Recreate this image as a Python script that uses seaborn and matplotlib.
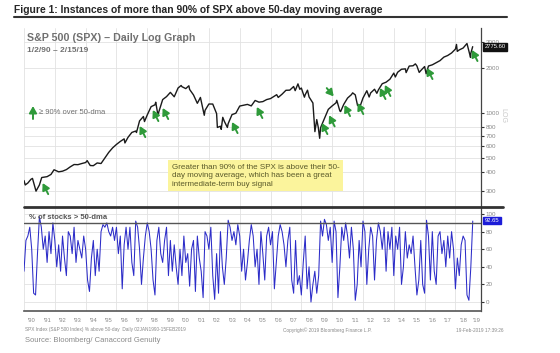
import numpy as np
import pandas as pd
import matplotlib.pyplot as plt
import matplotlib.lines as mlines
from matplotlib.ticker import NullLocator, FixedLocator
import seaborn as sns

# S&P 500 closes (decimal year, index level)
spx_dates = [1990.00, 1990.08, 1990.25, 1990.45, 1990.55, 1990.78, 1991.00, 1991.15, 1991.50, 1991.75,
             1991.95, 1992.25, 1992.50, 1992.75, 1993.00, 1993.25, 1993.50, 1993.75, 1994.00, 1994.10,
             1994.30, 1994.50, 1994.75, 1995.00, 1995.25, 1995.50, 1995.75, 1996.00, 1996.25, 1996.50,
             1996.55, 1996.75, 1997.00, 1997.25, 1997.30, 1997.50, 1997.75, 1997.82, 1998.00, 1998.25,
             1998.50, 1998.55, 1998.70, 1998.75, 1999.00, 1999.25, 1999.50, 1999.75, 2000.00, 2000.20,
             2000.25, 2000.50, 2000.70, 2000.75, 2001.00, 2001.25, 2001.45, 2001.70, 2001.75, 2002.00,
             2002.25, 2002.50, 2002.55, 2002.75, 2002.80, 2002.90, 2003.00, 2003.20, 2003.25, 2003.50,
             2003.75, 2004.00, 2004.25, 2004.50, 2004.75, 2005.00, 2005.25, 2005.50, 2005.75, 2006.00,
             2006.25, 2006.40, 2006.50, 2006.75, 2007.00, 2007.25, 2007.50, 2007.60, 2007.78, 2007.90,
             2008.00, 2008.20, 2008.25, 2008.40, 2008.50, 2008.75, 2008.88, 2009.00, 2009.10, 2009.19,
             2009.25, 2009.50, 2009.75, 2010.00, 2010.25, 2010.30, 2010.50, 2010.55, 2010.75, 2011.00,
             2011.25, 2011.33, 2011.50, 2011.65, 2011.75, 2011.80, 2012.00, 2012.25, 2012.40, 2012.50,
             2012.75, 2012.90, 2013.00, 2013.25, 2013.50, 2013.75, 2014.00, 2014.10, 2014.25, 2014.50,
             2014.75, 2014.80, 2015.00, 2015.25, 2015.40, 2015.50, 2015.65, 2015.75, 2016.00, 2016.10,
             2016.25, 2016.50, 2016.75, 2017.00, 2017.25, 2017.50, 2017.75, 2018.00, 2018.07, 2018.12,
             2018.25, 2018.50, 2018.75, 2018.98, 2019.00, 2019.12]
spx_close = [353, 330, 340, 360, 365, 300, 330, 370, 375, 388,
             417, 404, 408, 418, 436, 452, 451, 459, 466, 480,
             445, 444, 463, 459, 500, 545, 584, 616, 645, 671,
             630, 687, 741, 757, 740, 885, 947, 876, 970, 1102,
             1134, 1180, 957, 1017, 1229, 1286, 1373, 1283, 1469, 1527,
             1499, 1455, 1520, 1436, 1320, 1160, 1270, 965, 1041, 1148,
             1147, 990, 800, 815, 777, 935, 880, 800, 848, 975,
             996, 1112, 1126, 1141, 1115, 1212, 1181, 1191, 1229, 1248,
             1295, 1325, 1270, 1336, 1418, 1421, 1503, 1410, 1565, 1440,
             1468, 1275, 1323, 1420, 1280, 1166, 750, 903, 800, 677,
             798, 919, 1057, 1115, 1169, 1215, 1031, 1022, 1141, 1258,
             1326, 1363, 1321, 1120, 1131, 1099, 1258, 1408, 1278, 1362,
             1441, 1353, 1426, 1569, 1606, 1682, 1848, 1741, 1872, 1960,
             1972, 1862, 2059, 2068, 2130, 2063, 1867, 1920, 2044, 1829,
             2060, 2099, 2168, 2239, 2363, 2423, 2519, 2674, 2873, 2581,
             2641, 2718, 2914, 2351, 2507, 2775]

# % of SPX stocks above their 50-dma, eight readings per year
pct_values = [35, 70, 75, 85, 60, 10, 8, 55,
              97, 85, 60, 75, 45, 80, 55, 90,
              70, 40, 65, 35, 75, 50, 30, 80,
              75, 55, 85, 45, 70, 60, 50, 75,
              60, 25, 12, 50, 70, 30, 60, 35,
              80, 88, 85, 90, 80, 75, 85, 70,
              85, 55, 75, 15, 65, 85, 60, 85,
              45, 30, 92, 85, 60, 20, 50, 75,
              90, 80, 60, 25, 8, 70, 85, 55,
              45, 70, 85, 30, 70, 35, 65, 40,
              20, 60, 30, 75, 45, 55, 18, 60,
              70, 12, 75, 50, 35, 5, 80, 75,
              60, 85, 30, 3, 55, 10, 80, 40,
              20, 50, 93, 85, 70, 80, 65, 88,
              75, 35, 60, 25, 45, 70, 88, 75,
              40, 60, 20, 80, 55, 25, 75, 85,
              65, 80, 15, 45, 75, 88, 80, 65,
              40, 70, 85, 25, 10, 70, 20, 30,
              8, 45, 75, 15, 40, 0, 20, 35,
              10, 30, 92, 75, 94, 88, 70, 85,
              45, 92, 80, 5, 40, 85, 70, 90,
              75, 50, 85, 60, 2, 20, 70, 40,
              92, 80, 20, 60, 85, 75, 25, 70,
              90, 80, 60, 85, 35, 80, 60, 85,
              30, 75, 60, 85, 20, 40, 80, 50,
              65, 55, 75, 40, 8, 25, 70, 20,
              10, 93, 75, 25, 80, 35, 20, 75,
              80, 55, 70, 40, 75, 50, 80, 60,
              15, 50, 30, 65, 75, 70, 8, 2,
              40, 92]
pct_dates = 1990 + np.arange(len(pct_values)) / 8

# green ">= 90%" signal arrows: date and price at the arrow tip
arrow_dates = [1991.21, 1997.51, 1998.36, 1999.0, 2003.5, 2005.11, 2009.33, 2009.8, 2010.1,
               2010.8, 2011.66, 2013.1, 2013.42, 2016.15, 2019.07]
arrow_prices = [340, 818, 1047, 1080, 870, 1097, 857, 965, 1290,
                1131, 1166, 1470, 1540, 2000, 2640]
arrow_down = [False] * 8 + [True] + [False] * 6

price_ticks = [300, 400, 500, 600, 700, 800, 1000, 2000, 3000]
pct_ticks = [0, 20, 40, 60, 80, 100]
years = list(range(1990, 2020))
year_labels = ["'" + str(y)[2:] for y in years]

last_price = 2775.60
last_pct = 92.65

W, H = 560, 353
def fx(px):
    return px / W
def fy(py):
    return 1 - py / H

GREEN_ARROW = dict(arrowstyle='-|>,head_length=0.8,head_width=0.45', mutation_scale=5,
                   color='#2f9a3a', lw=1.4, shrinkA=0, shrinkB=0)

sns.set_style('white')
plt.rcParams['font.family'] = ['Liberation Sans', 'DejaVu Sans']

fig = plt.figure(figsize=(5.6, 3.53), dpi=100)
ax1 = fig.add_axes([fx(24), fy(207), 457 / W, 179 / H])
ax2 = fig.add_axes([fx(24), fy(311), 457 / W, 104 / H])

## upper panel: SPX on log scale
sns.lineplot(x=spx_dates, y=spx_close, ax=ax1, color='#1a1a1a', lw=1.0)
ax1.set_yscale('log')
ax1.set_ylim(235, 3700)
ax1.set_xlim(1990, 2019.66)
ax1.yaxis.tick_right()
ax1.yaxis.set_major_locator(FixedLocator(price_ticks))
ax1.yaxis.set_minor_locator(NullLocator())
ax1.set_yticklabels([str(t) for t in price_ticks])
ax1.set_xticks(range(1990, 2020, 2))
ax1.tick_params(axis='x', length=0, labelbottom=False)
ax1.tick_params(axis='y', length=2, width=0.8, color='#333333', labelsize=4.5,
                labelcolor='#888888', pad=1.5)
ax1.grid(True, color='#e2e2e2', lw=0.6)
for s in ['top', 'left', 'bottom']:
    ax1.spines[s].set_visible(False)
ax1.spines['right'].set_color('#444444')
ax1.spines['right'].set_linewidth(0.9)

for d, p, down in zip(arrow_dates, arrow_prices, arrow_down):
    off = (-5, 6) if down else (4, -8)
    ax1.annotate('', xy=(d, p), xytext=off, textcoords='offset points',
                 arrowprops=GREEN_ARROW)

ax1.annotate(f'{last_price:.2f}', xy=(1.0, last_price), xycoords=('axes fraction', 'data'),
             xytext=(2.5, 0), textcoords='offset points', va='center', ha='left',
             fontsize=4.2, color='white',
             bbox=dict(boxstyle='square,pad=0.25', fc='#111111', ec='#111111'))

## lower panel: % of stocks above 50-dma
sns.lineplot(x=pct_dates, y=pct_values, ax=ax2, color='#2c2cc8', lw=0.75)
ax2.axhline(90, color='#555555', lw=1.0)
ax2.set_ylim(-10.2, 108)
ax2.set_xlim(1990, 2019.66)
ax2.yaxis.tick_right()
ax2.set_yticks(pct_ticks)
ax2.set_yticklabels([str(t) for t in pct_ticks])
ax2.tick_params(axis='y', length=2, width=0.8, color='#333333', labelsize=4.5,
                labelcolor='#888888', pad=1.5)
ax2.yaxis.grid(True, color='#e2e2e2', lw=0.6)
ax2.xaxis.set_minor_locator(FixedLocator(years))
ax2.xaxis.set_major_locator(FixedLocator([y + 0.5 for y in years[:-1]] + [2019.35]))
ax2.set_xticklabels(year_labels)
ax2.tick_params(axis='x', which='major', length=0, labelsize=4.2, labelcolor='#888888', pad=5)
ax2.tick_params(axis='x', which='minor', length=10, width=0.6, color='#aaaaaa', direction='out')
for y in range(1990, 2020, 2):
    ax2.axvline(y, color='#e2e2e2', lw=0.6, zorder=0)
ax2.spines['top'].set_visible(False)
ax2.spines['left'].set_visible(False)
ax2.spines['right'].set_color('#444444')
ax2.spines['right'].set_linewidth(0.9)
ax2.spines['bottom'].set_color('#555555')
ax2.spines['bottom'].set_linewidth(1.2)
ax2.set_xlabel('')

ax2.annotate(f'{last_pct:.2f}', xy=(1.0, last_pct), xycoords=('axes fraction', 'data'),
             xytext=(2.5, 0), textcoords='offset points', va='center', ha='left',
             fontsize=4.2, color='white',
             bbox=dict(boxstyle='square,pad=0.25', fc='#1c1cd8', ec='#1c1cd8'))
ax2.text(0.012, 0.93, '% of stocks > 50-dma', transform=ax2.transAxes, fontsize=5.5,
         color='#555555', fontweight='bold', va='top', ha='left')

## figure-level furniture
fig.text(fx(14), fy(10), 'Figure 1: Instances of more than 90% of SPX above 50-day moving average',
         fontsize=7.4, fontweight='bold', va='center', ha='left',
         family=['Liberation Sans Narrow', 'Liberation Sans', 'DejaVu Sans'])
fig.add_artist(mlines.Line2D([fx(14), fx(507)], [fy(17), fy(17)], color='#333333', lw=1.5))
fig.add_artist(mlines.Line2D([fx(24), fx(503)], [fy(207), fy(207)], color='#333333', lw=2))

fig.text(fx(27), fy(38), 'S&P 500 (SPX) \u2013 Daily Log Graph', fontsize=7.7, fontweight='bold',
         color='#707070', va='center', ha='left')
fig.text(fx(27), fy(50), '1/2/90 \u2013 2/15/19', fontsize=6, fontweight='bold',
         color='#707070', va='center', ha='left')

ax1.annotate('', xy=(fx(33), fy(106)), xycoords='figure fraction',
             xytext=(fx(33), fy(119)), textcoords='figure fraction',
             arrowprops=GREEN_ARROW)
fig.text(fx(39), fy(113), '\u2265 90% over 50-dma', fontsize=5.5, color='#707070',
         va='center', ha='left')

fig.text(fx(172), fy(164), 'Greater than 90% of the SPX is above their 50-\n'
         'day moving average, which has been a great\nintermediate-term buy signal',
         fontsize=5.8, color='#5a5a2a', va='top', ha='left', linespacing=1.25,
         bbox=dict(boxstyle='square,pad=0.45', fc='#fbf49c', ec='none'))

fig.text(fx(503), fy(116), 'LOG', fontsize=5, color='#c8c8c8', rotation=270,
         va='center', ha='center')

fig.text(fx(25), fy(330), 'SPX Index (S&P 500 Index) % above 50-day  Daily 02JAN1990-15FEB2019',
         fontsize=3.4, color='#888888', va='center', ha='left')
fig.text(fx(283), fy(330), 'Copyright\u00a9 2019 Bloomberg Finance L.P.', fontsize=3.4,
         color='#888888', va='center', ha='left')
fig.text(fx(503), fy(330), '19-Feb-2019 17:39:26', fontsize=3.4, color='#888888',
         va='center', ha='right')
fig.text(fx(25), fy(341), 'Source: Bloomberg/ Canaccord Genuity', fontsize=5.5,
         color='#8a8a8a', va='center', ha='left')

fig.savefig('out.png', dpi=100)
